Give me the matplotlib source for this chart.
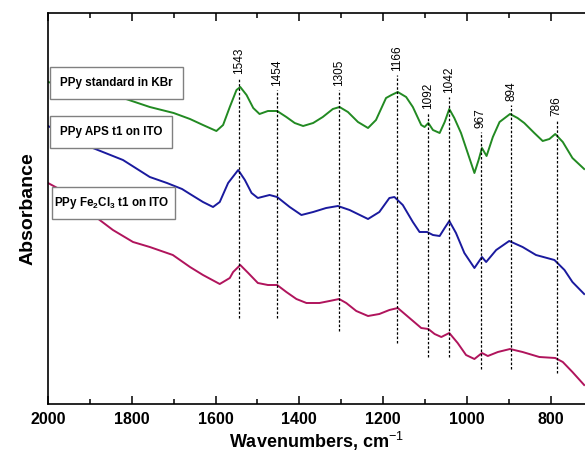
import numpy as np
import matplotlib.pyplot as plt
from matplotlib.patches import Rectangle

# ---------------- DATA (wavenumber, absorbance a.u.) ----------------
green_wn = [2000, 1960, 1924, 1821, 1757, 1700, 1661, 1630, 1598, 1582, 1566, 1550, 1541,
            1526, 1510, 1495, 1475, 1453, 1431, 1411, 1391, 1367, 1344, 1320, 1304, 1284,
            1260, 1236, 1217, 1193, 1180, 1165, 1145, 1129, 1109, 1101, 1092, 1081, 1065,
            1053, 1042, 1030, 1014, 998, 982, 972, 964, 953, 938, 922, 897, 879, 863, 839,
            819, 803, 789, 771, 748, 720]
green_abs = [322, 318, 315, 306, 297, 291, 285, 279, 273, 279, 297, 314, 317,
             309, 296, 290, 293, 293, 287, 281, 278, 281, 287, 295, 297, 292,
             282, 276, 284, 306, 309, 312, 307, 297, 279, 277, 281, 274, 271,
             282, 295, 286, 271, 251, 231, 244, 256, 248, 267, 282, 290, 286, 281, 271,
             263, 265, 270, 262, 246, 235]

blue_wn = [2000, 1948, 1893, 1821, 1757, 1716, 1680, 1661, 1630, 1606, 1590, 1570, 1546,
           1530, 1514, 1499, 1471, 1453, 1423, 1395, 1367, 1336, 1308, 1280, 1236, 1209,
           1185, 1173, 1153, 1129, 1113, 1095, 1081, 1065, 1053, 1042, 1026, 1006, 982,
           964, 954, 930, 899, 867, 835, 791, 767, 748, 720]
blue_abs = [278, 267, 256, 244, 227, 221, 215, 210, 202, 197, 202, 221, 234,
            224, 211, 206, 209, 207, 197, 189, 192, 196, 198, 194, 185, 192,
            206, 207, 199, 182, 172, 172, 169, 168, 176, 183, 171, 151, 136,
            147, 142, 154, 163, 157, 149, 144, 134, 122, 110]

red_wn = [2000, 1960, 1924, 1845, 1797, 1757, 1702, 1661, 1630, 1590, 1566, 1558, 1541,
          1522, 1499, 1475, 1453, 1431, 1407, 1383, 1352, 1328, 1305, 1288, 1264, 1236,
          1209, 1185, 1165, 1137, 1109, 1092, 1077, 1061, 1042, 1022, 1002, 982, 964, 950,
          926, 897, 867, 827, 789, 771, 748, 720]
red_abs = [221, 212, 199, 174, 162, 157, 149, 137, 129, 120, 126, 132, 139,
           131, 121, 119, 119, 112, 105, 101, 101, 103, 105, 101, 93, 88,
           90, 94, 96, 86, 76, 75, 70, 67, 71, 61, 49, 45, 51, 48,
           52, 55, 52, 47, 46, 42, 32, 19]

peaks = [1543, 1454, 1305, 1166, 1092, 1042, 967, 894, 786]
peak_top = [326, 314, 314, 329, 291, 307, 272, 299, 284]
peak_bottom = [86, 86, 73, 61, 47, 47, 35, 35, 31]

labels = ["PPy standard in KBr", "PPy APS t1 on ITO",
          r"PPy Fe$_\mathbf{2}$Cl$_\mathbf{3}$ t1 on ITO"]

# ---------------- STYLE ----------------
plt.rcParams['font.family'] = ['Liberation Sans', 'DejaVu Sans']
plt.rcParams['mathtext.fontset'] = 'custom'
plt.rcParams['mathtext.rm'] = 'Liberation Sans'
plt.rcParams['mathtext.bf'] = 'Liberation Sans:bold'

fig = plt.figure(figsize=(5.85, 4.54), dpi=100)
ax = fig.add_axes([48 / 585, 50 / 454, 537 / 585, 391 / 454])

kw = dict(lw=1.4, solid_joinstyle='round')
ax.plot(green_wn, green_abs, color='#228a22', **kw)
ax.plot(blue_wn, blue_abs, color='#1a1a9e', **kw)
ax.plot(red_wn, red_abs, color='#b0145c', **kw)

# peak markers
for wn, top, bot in zip(peaks, peak_top, peak_bottom):
    ax.plot([wn, wn], [bot, top], color='black', lw=0.9, ls=(0, (2, 1.5)))
    ax.annotate(str(wn), (wn, top), xytext=(0, 3), textcoords='offset points',
                rotation=90, ha='center', va='bottom', fontsize=8.5)

# sample labels
box = dict(boxstyle='square,pad=0.85', fc='white', ec='#808080', lw=1)
ax.text(1971, 321, labels[0], fontsize=8.4, fontweight='bold', va='center', bbox=box)
ax.text(1971, 272, labels[1], fontsize=8.4, fontweight='bold', va='center', bbox=box)
# third box is tighter at the sides
ax.add_patch(Rectangle((1697, 185), 293, 32, fc='white', ec='#808080', lw=1, zorder=3))
ax.text(1986, 201, labels[2], fontsize=8.4, fontweight='bold', va='center', zorder=4)

ax.set_xlim(2000, 718)
ax.set_ylim(0, 391)
ax.set_xticks([2000, 1800, 1600, 1400, 1200, 1000, 800])
ax.set_xticks(np.arange(1900, 700, -200), minor=True)
ax.set_yticks([])
ax.tick_params(axis='x', which='both', direction='in', top=True, width=1.1)
ax.tick_params(axis='x', which='major', length=6, labelsize=11.5, pad=6)
ax.tick_params(axis='x', which='minor', length=3.5)
for t in ax.get_xticklabels():
    t.set_fontweight('bold')
for s in ax.spines.values():
    s.set_linewidth(1.2)
ax.spines['right'].set_visible(False)

ax.set_xlabel(r"Wavenumbers, cm$^{-1}$", fontsize=13, fontweight='bold', labelpad=2)
ax.set_ylabel("Absorbance", fontsize=14, fontweight='bold', labelpad=8)

fig.savefig("out.png", dpi=100)
